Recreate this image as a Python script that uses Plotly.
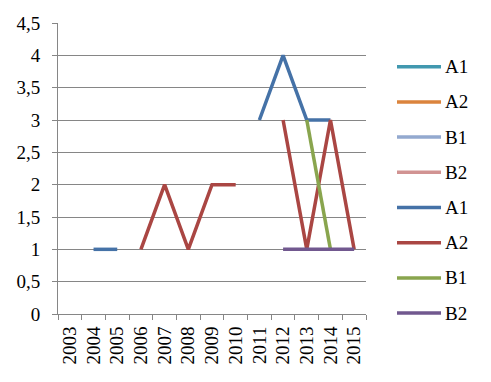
import plotly.graph_objects as go

years = [str(y) for y in range(2003, 2016)]

# light (background) series - no visible data
A1_light = [None] * 13
A2_light = [None] * 13
B1_light = [None] * 13
B2_light = [None] * 13

# dark series
A1 = [None, 1, 1, None, None, None, None, None, 3, 4, 3, 3, None]
A2 = [None, None, None, 1, 2, 1, 2, 2, None, 3, 1, 3, 1]
B1 = [None, None, None, None, None, None, None, None, None, None, 3, 1, None]
B2 = [None, None, None, None, None, None, None, None, None, 1, 1, 1, 1]

series = [
    ("A1", A1_light, "#4198AF"),
    ("A2", A2_light, "#DB843D"),
    ("B1", B1_light, "#93A9CF"),
    ("B2", B2_light, "#D19392"),
    ("A1", A1, "#4572A7"),
    ("A2", A2, "#AA4643"),
    ("B1", B1, "#89A54E"),
    ("B2", B2, "#71588F"),
]

y_ticks = [0, 0.5, 1, 1.5, 2, 2.5, 3, 3.5, 4, 4.5]

font = dict(family="Liberation Serif", size=19, color="#000000")

fig = go.Figure()
for i, (name, vals, color) in enumerate(series):
    fig.add_trace(go.Scatter(
        x=years, y=vals, name=name, mode="lines",
        line=dict(color=color, width=3.5),
        showlegend=False, connectgaps=False,
    ))

# manual legend (to match long legend keys)
plot_w, plot_h = 308.0, 291.0
for i, (name, vals, color) in enumerate(series):
    yp = (314 - (66.7 + 35.2 * i)) / plot_h
    fig.add_shape(type="line", xref="paper", yref="paper",
                  x0=(397 - 58) / plot_w, x1=(441 - 58) / plot_w, y0=yp, y1=yp,
                  line=dict(color=color, width=3.5))
    fig.add_annotation(xref="paper", yref="paper", x=(443 - 58) / plot_w, y=yp,
                       text=name, showarrow=False, xanchor="left", yanchor="middle",
                       font=font)

fig.update_layout(
    width=491, height=382,
    margin=dict(l=58, r=125, t=23, b=68),
    paper_bgcolor="white", plot_bgcolor="white",
    separators=", ",
    font=font,
    showlegend=False,
    xaxis=dict(
        type="category", categoryorder="array", categoryarray=years,
        tickvals=years, ticktext=years,
        showgrid=False, showline=True, linecolor="#868686", linewidth=1,
        ticks="outside", tickson="boundaries", ticklen=5, tickcolor="#868686",
        tickangle=-90, tickfont=font, range=[-0.5, 12.5], automargin=False,
        ticklabelstandoff=4,
    ),
    yaxis=dict(
        range=[0, 4.5], tickvals=y_ticks,
        showgrid=True, gridcolor="#868686", gridwidth=1,
        showline=True, linecolor="#868686", linewidth=1,
        ticks="outside", ticklen=5, tickcolor="#868686",
        tickfont=font, zeroline=False, ticklabelstandoff=8, automargin=False,
    ),
)

fig.write_html("out.html", config={"displayModeBar": False},
               post_script="document.body.style.margin='0px';")
